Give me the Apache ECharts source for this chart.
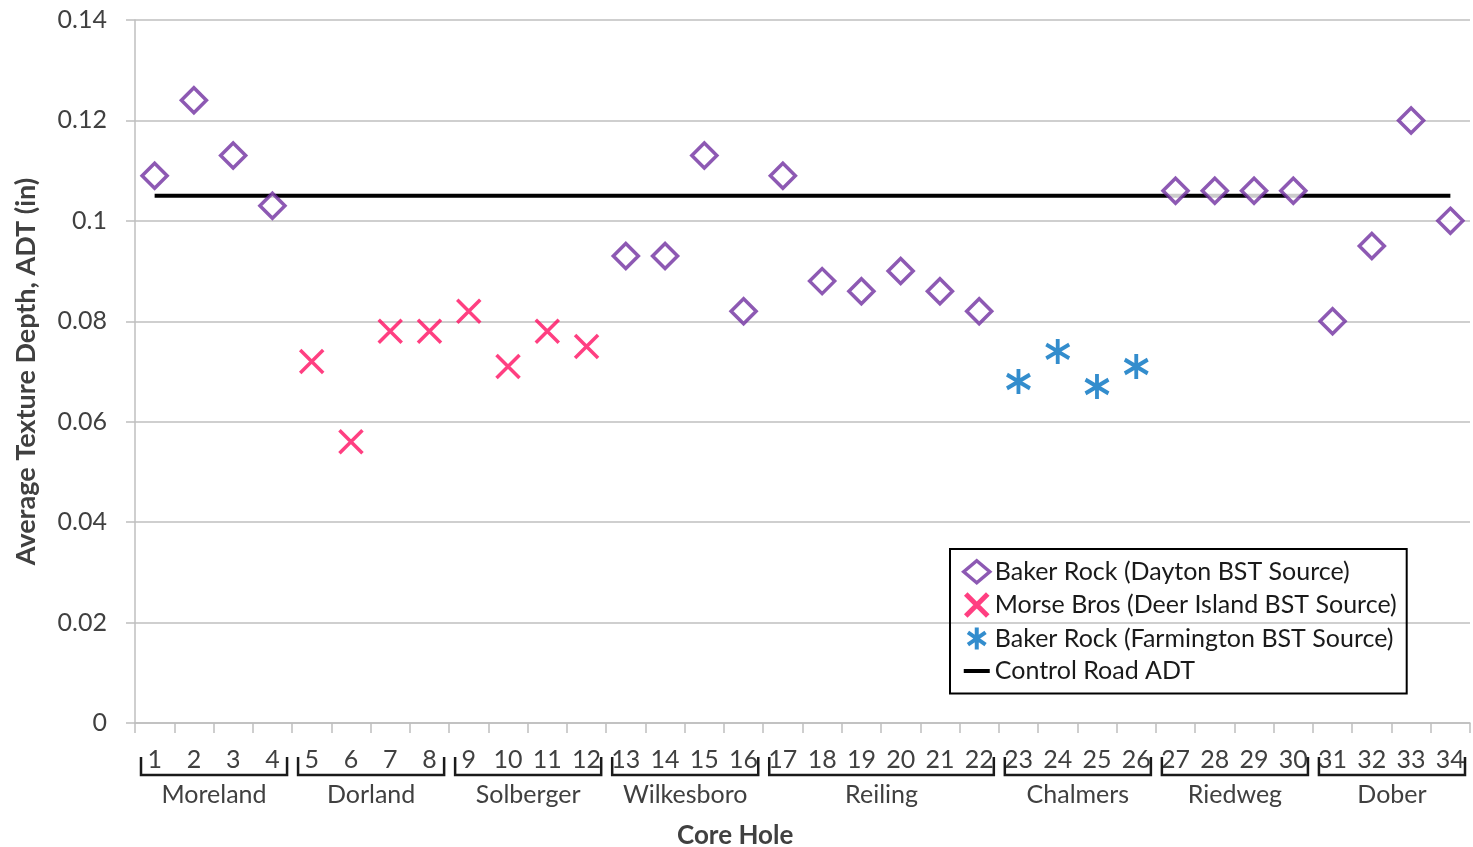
<!DOCTYPE html>
<html>
<head>
<meta charset="utf-8">
<script src="https://cdn.jsdelivr.net/npm/echarts@6/dist/echarts.min.js"></script>
<style>
  html, body { margin: 0; padding: 0; background: #fff; }
  #chart { width: 1473px; height: 847px; }
</style>
</head>
<body>
<div id="chart"></div>
<script>
(() => {
  'use strict';

  // -------- data --------
  const holes = ['1','2','3','4','5','6','7','8','9','10','11','12','13','14','15','16','17',
    '18','19','20','21','22','23','24','25','26','27','28','29','30','31','32','33','34'];

  const daytonHoles = ['1','2','3','4','13','14','15','16','17','18','19','20','21','22','27','28','29','30','31','32','33','34'];
  const daytonValues = [0.109, 0.124, 0.113, 0.103, 0.093, 0.093, 0.113, 0.082, 0.109, 0.088, 0.086,
    0.090, 0.086, 0.082, 0.106, 0.106, 0.106, 0.106, 0.080, 0.095, 0.120, 0.100];

  const deerHoles = ['5','6','7','8','9','10','11','12'];
  const deerValues = [0.072, 0.056, 0.078, 0.078, 0.082, 0.071, 0.078, 0.075];

  const farmHoles = ['23','24','25','26'];
  const farmValues = [0.068, 0.074, 0.067, 0.071];

  const controlHoles = ['1', '34'];
  const controlValue = 0.105;

  const groupNames = ['Moreland', 'Dorland', 'Solberger', 'Wilkesboro', 'Reiling', 'Chalmers', 'Riedweg', 'Dober'];
  const groupFirst = [1, 5, 9, 13, 17, 23, 27, 31];
  const groupLast = [4, 8, 12, 16, 22, 26, 30, 34];

  const yTicks = { min: 0, max: 0.14, step: 0.02 };

  const FONT = 'Lato, "Noto Sans", sans-serif';
  const GREY = '#bfbfbf';
  const TXT = '#404040';
  const PURPLE = '#7030a0';
  const PINK = '#ff0f62';
  const BLUE = '#0070c0';

  const pairs = (xs, ys) => xs.map((x, i) => [x, ys[i]]);

  const chart = echarts.init(document.getElementById('chart'), null, { renderer: 'canvas' });

  // brackets + group names under the hole numbers
  function renderGroup(params, api) {
    const s = api.value(0), e = api.value(1);
    const w = api.size([1, 0])[0];
    const p0 = api.coord([s, 0]);
    const p1 = api.coord([e, 0]);
    const x0 = p0[0] - w / 2 + 6;
    const x1 = p1[0] + w / 2 - 5;
    const yb = p0[1];
    return {
      type: 'group',
      children: [
        {
          type: 'polyline',
          shape: { points: [[x0, yb + 34], [x0, yb + 52], [x1, yb + 52], [x1, yb + 34]] },
          style: { stroke: '#1a1a1a', lineWidth: 2.5, fill: null }
        },
        {
          type: 'text',
          x: (x0 + x1) / 2,
          y: yb + 72,
          style: {
            text: groupNames[params.dataIndex],
            font: '25px ' + FONT,
            fill: TXT,
            align: 'center',
            verticalAlign: 'middle'
          }
        }
      ]
    };
  }

  const xMark = 'path://M0,0L10,10M10,0L0,10';
  const starMark = 'path://M10,0L10,20M2,4.5L18,15.5M18,4.5L2,15.5';
  const barMark = 'path://M0,0H26V4H0Z';

  chart.setOption({
    animation: false,
    textStyle: { fontFamily: FONT },
    grid: { left: 135, right: 3, top: 20, bottom: 124 },
    title: {
      text: 'Core Hole',
      left: 672,
      top: 818,
      textStyle: { fontFamily: FONT, fontSize: 26, fontWeight: 'bold', color: TXT }
    },
    legend: {
      orient: 'vertical',
      left: 950,
      top: 549,
      padding: [10, 10, 10, 12],
      itemGap: 7,
      itemWidth: 26,
      itemHeight: 22,
      borderColor: '#000',
      borderWidth: 2,
      textStyle: { fontFamily: FONT, fontSize: 25, color: '#1a1a1a' },
      data: [
        { name: 'Baker Rock (Dayton BST Source)', icon: 'diamond',
          itemStyle: { color: '#fff', borderColor: PURPLE, borderWidth: 3.5 } },
        { name: 'Morse Bros (Deer Island BST Source)', icon: xMark,
          itemStyle: { color: 'rgba(0,0,0,0)', borderColor: PINK, borderWidth: 5 } },
        { name: 'Baker Rock (Farmington BST Source)', icon: starMark,
          itemStyle: { color: 'rgba(0,0,0,0)', borderColor: BLUE, borderWidth: 4 } },
        { name: 'Control Road ADT', icon: barMark,
          itemStyle: { color: '#000', borderWidth: 0 } }
      ]
    },
    xAxis: {
      type: 'category',
      data: holes,
      boundaryGap: true,
      axisLine: { lineStyle: { color: GREY, width: 1.5 } },
      axisTick: { show: true, length: 10, lineStyle: { color: GREY, width: 1.5 } },
      axisLabel: { interval: 0, margin: 24, fontSize: 25, color: TXT, fontFamily: FONT },
      splitLine: { show: false }
    },
    yAxis: {
      type: 'value',
      min: yTicks.min,
      max: yTicks.max,
      interval: yTicks.step,
      name: 'Average Texture Depth, ADT (in)',
      nameLocation: 'middle',
      nameGap: 95,
      nameTextStyle: { fontFamily: FONT, fontSize: 27, fontWeight: 'bold', color: TXT },
      axisLine: { show: true, lineStyle: { color: GREY, width: 1.5 } },
      axisTick: { show: true, length: 9, lineStyle: { color: GREY, width: 1.5 } },
      axisLabel: { margin: 28, fontSize: 25, color: TXT, fontFamily: FONT },
      splitLine: { show: true, lineStyle: { color: GREY, width: 1.5 } }
    },
    series: [
      {
        name: 'Control Road ADT',
        type: 'line',
        data: pairs(controlHoles, [controlValue, controlValue]),
        symbol: 'none',
        lineStyle: { color: '#000', width: 4 },
        itemStyle: { color: '#000' },
        z: 2
      },
      {
        name: 'Baker Rock (Dayton BST Source)',
        type: 'scatter',
        data: pairs(daytonHoles, daytonValues),
        symbol: 'diamond',
        symbolSize: 25,
        itemStyle: { color: '#fff', borderColor: PURPLE, borderWidth: 3.5 },
        z: 3
      },
      {
        name: 'Morse Bros (Deer Island BST Source)',
        type: 'scatter',
        data: pairs(deerHoles, deerValues),
        symbol: xMark,
        symbolSize: 23,
        itemStyle: { color: 'rgba(0,0,0,0)', borderColor: PINK, borderWidth: 3.5 },
        z: 3
      },
      {
        name: 'Baker Rock (Farmington BST Source)',
        type: 'scatter',
        data: pairs(farmHoles, farmValues),
        symbol: starMark,
        symbolSize: [23, 25],
        itemStyle: { color: 'rgba(0,0,0,0)', borderColor: BLUE, borderWidth: 4 },
        z: 3
      },
      {
        name: 'groups',
        type: 'custom',
        clip: false,
        silent: true,
        renderItem: renderGroup,
        encode: { x: [0, 1], y: 2 },
        data: groupNames.map((n, i) => [groupFirst[i] - 1, groupLast[i] - 1, 0]),
        z: 1
      }
    ]
  });
})();
</script>
</body>
</html>
